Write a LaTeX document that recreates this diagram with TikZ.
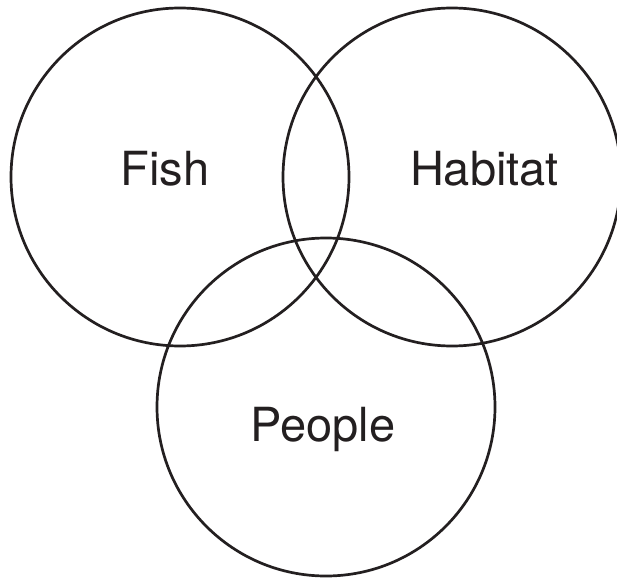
\documentclass[tikz,border=0pt]{standalone}
\usepackage{fontspec}
\setmainfont{TeX Gyre Heros}
\usepackage{tikz}
\usetikzlibrary{positioning}
\definecolor{ink}{HTML}{231F20}

\begin{document}
\begin{tikzpicture}[x=1pt,y=1pt,
  ring/.style={circle,draw=ink,line width=2.7pt,minimum size=338pt,inner sep=0pt},
  word/.style={anchor=base,text=ink,font=\fontsize{47}{50}\selectfont}]
%\draw[help lines] (0,0) grid[step=50] (617,579);
\useasboundingbox[clip] (0,0) rectangle (617,579);
%
\foreach \x/\y in {(180,402)/fish,(452,402)/habitat,(326,172)/people}
\node[ring] (\y) at \x {};
%
\node[word] (fishlabel) at (165,393) {Fish};
\node[word] (habitatlabel) at (484.5,393) {Habitat};
\node[word] (peoplelabel) at (323,138) {People};
\end{tikzpicture}
\end{document}
